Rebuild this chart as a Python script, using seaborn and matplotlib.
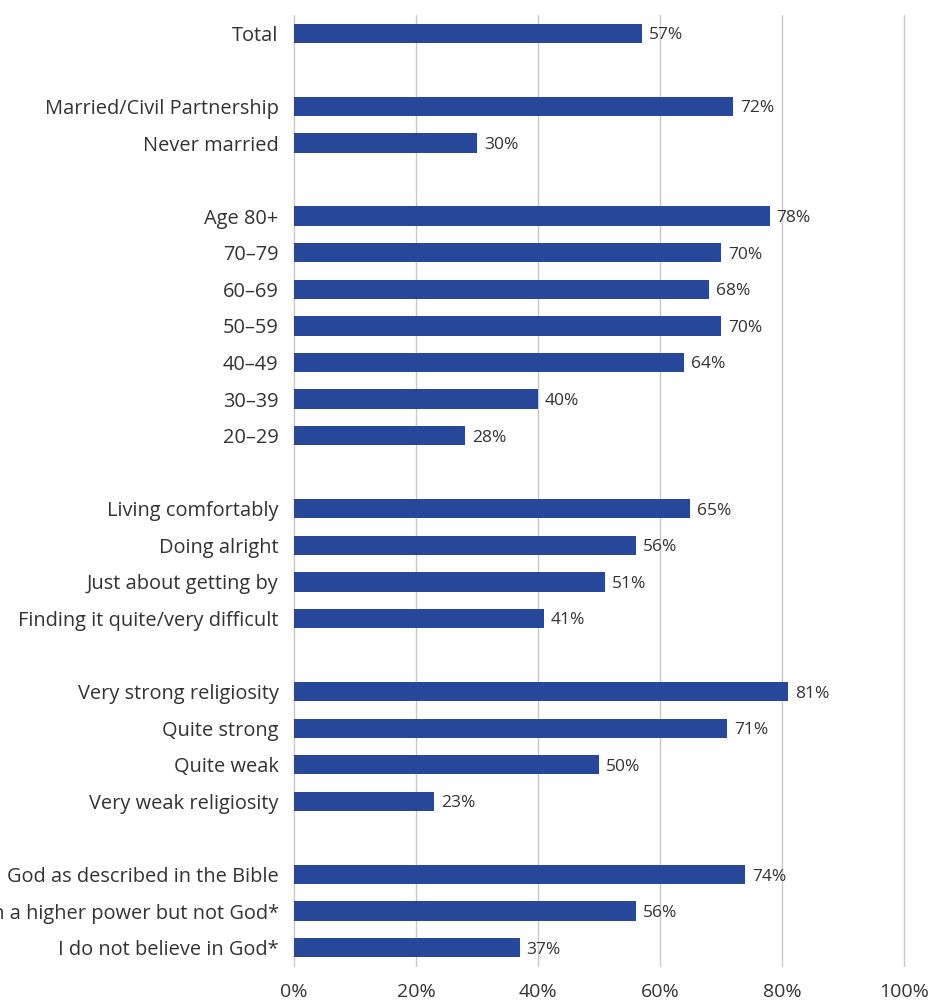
import matplotlib
matplotlib.use("Agg")
import matplotlib.pyplot as plt
import seaborn as sns
import pandas as pd

sns.set_style("white")
plt.rcParams['font.family'] = ['Open Sans', 'DejaVu Sans']

# categories (blank strings are spacer rows between groups)
labels = ['Total', ' ',
          'Married/Civil Partnership', 'Never married', '  ',
          'Age 80+', '70\u201379', '60\u201369', '50\u201359', '40\u201349', '30\u201339', '20\u201329', '   ',
          'Living comfortably', 'Doing alright', 'Just about getting by', 'Finding it quite/very difficult', '    ',
          'Very strong religiosity', 'Quite strong', 'Quite weak', 'Very weak religiosity', '     ',
          'God as described in the Bible', 'I believe in a higher power but not God*', 'I do not believe in God*']
values = [57, None,
          72, 30, None,
          78, 70, 68, 70, 64, 40, 28, None,
          65, 56, 51, 41, None,
          81, 71, 50, 23, None,
          74, 56, 37]

df = pd.DataFrame({'label': labels, 'value': values}).dropna()

bar_color = '#27479A'
text_color = '#333333'

fig = plt.figure(figsize=(9.33, 10.06), dpi=100)
ax = fig.add_axes([0.3151, 0.0398, 0.6538, 0.9453])

sns.barplot(data=df, x='value', y='label', order=labels, color=bar_color,
            width=0.53, saturation=1, ax=ax, orient='h', linewidth=0)

ax.set_xlim(0, 100)
ax.set_ylim(len(labels) - 0.5, -0.5)
ax.set_xticks([0, 20, 40, 60, 80, 100])
ax.set_xticklabels([f'{t}%' for t in [0, 20, 40, 60, 80, 100]], fontsize=14, color=text_color)
ax.tick_params(axis='x', length=0, pad=12)
ax.tick_params(axis='y', length=0, pad=11, labelsize=14.4, labelcolor=text_color)
ax.grid(axis='x', color='#c8c8c8', linewidth=1)
for gl in ax.get_xgridlines():
    gl.set_clip_on(False)
ax.set_axisbelow(True)
for s in ax.spines.values():
    s.set_visible(False)
ax.set_xlabel('')
ax.set_ylabel('')

for c in ax.containers:
    txts = ax.bar_label(c, labels=[f'{v:.0f}%' if v == v else '' for v in c.datavalues],
                        padding=5, fontsize=12.5, color=text_color)
    for t in txts:
        t.set_va('center_baseline')

fig.savefig('out.png', dpi=100)
